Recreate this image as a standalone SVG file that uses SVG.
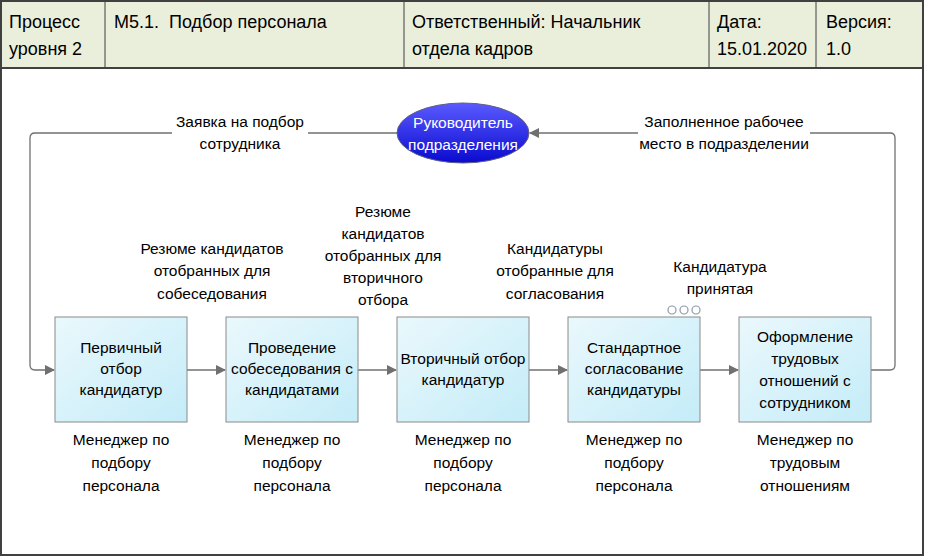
<svg xmlns="http://www.w3.org/2000/svg" width="925" height="557" viewBox="0 0 925 557">
<defs>
<linearGradient id="boxg" x1="0" y1="0" x2="1" y2="1">
<stop offset="0" stop-color="#eaf8fc"/>
<stop offset="1" stop-color="#c4ecf8"/>
</linearGradient>
<linearGradient id="ellg" x1="0" y1="0" x2="0" y2="1">
<stop offset="0" stop-color="#5a5aff"/>
<stop offset="1" stop-color="#0a0ad0"/>
</linearGradient>
<marker id="arr" markerWidth="10" markerHeight="10" refX="9" refY="5" orient="auto" markerUnits="userSpaceOnUse">
<path d="M0,0 L10,5 L0,10 Z" fill="#707070"/>
</marker>
</defs>
<style>
text{font-family:"Liberation Sans",Arial,sans-serif;fill:#000}
.h{font-size:18px}
.t{font-size:15.5px;text-anchor:middle}
.box{fill:url(#boxg);stroke:#8a8a8a;stroke-width:1}
.con{fill:none;stroke:#707070;stroke-width:1.3}
.lbg{fill:#fff}
</style>
<rect x="0" y="0" width="925" height="557" fill="#fff"/>
<g id="header">
<rect x="1" y="1" width="922" height="67" fill="#eaefdc"/>
<rect x="1" y="1" width="922" height="554" fill="none" stroke="#404040" stroke-width="2"/>
<line x1="1" y1="68" x2="923" y2="68" stroke="#404040" stroke-width="2"/>
<line x1="105" y1="1" x2="105" y2="68" stroke="#404040" stroke-width="1"/>
<line x1="404" y1="1" x2="404" y2="68" stroke="#404040" stroke-width="1"/>
<line x1="709" y1="1" x2="709" y2="68" stroke="#404040" stroke-width="1"/>
<line x1="816" y1="1" x2="816" y2="68" stroke="#404040" stroke-width="1"/>
<text class="h" x="9" y="28">Процесс</text>
<text class="h" x="9" y="55">уровня 2</text>
<text class="h" x="114" y="28" xml:space="preserve">М5.1.  Подбор персонала</text>
<text class="h" x="412" y="28">Ответственный: Начальник</text>
<text class="h" x="412" y="55">отдела кадров</text>
<text class="h" x="717" y="28">Дата:</text>
<text class="h" x="717" y="55">15.01.2020</text>
<text class="h" x="826" y="28">Версия:</text>
<text class="h" x="826" y="55">1.0</text>
</g>
<g id="connectors">
<path class="con" d="M397,133 H35 Q30,133 30,138 V365 Q30,370 35,370 H54" marker-end="url(#arr)"/>
<path class="con" d="M871,370 H890 Q895,370 895,365 V138 Q895,133 890,133 H530" marker-end="url(#arr)"/>
<line class="con" x1="187" y1="370" x2="225" y2="370" marker-end="url(#arr)"/>
<line class="con" x1="358" y1="370" x2="396" y2="370" marker-end="url(#arr)"/>
<line class="con" x1="529" y1="370" x2="567" y2="370" marker-end="url(#arr)"/>
<line class="con" x1="700" y1="370" x2="738" y2="370" marker-end="url(#arr)"/>
<rect class="lbg" x="172" y="110" width="136" height="46"/>
<text class="t" x="240" y="127">Заявка на подбор</text>
<text class="t" x="240" y="149">сотрудника</text>
<rect class="lbg" x="638" y="110" width="172" height="46"/>
<text class="t" x="724" y="127">Заполненное рабочее</text>
<text class="t" x="724" y="149">место в подразделении</text>
<text class="t" x="212" y="254">Резюме кандидатов</text>
<text class="t" x="212" y="276">отобранных для</text>
<text class="t" x="212" y="299">собеседования</text>
<text class="t" x="383" y="217">Резюме</text>
<text class="t" x="383" y="239">кандидатов</text>
<text class="t" x="383" y="261">отобранных для</text>
<text class="t" x="383" y="283">вторичного</text>
<text class="t" x="383" y="305">отбора</text>
<text class="t" x="555" y="254">Кандидатуры</text>
<text class="t" x="555" y="276">отобранные для</text>
<text class="t" x="555" y="299">согласования</text>
<text class="t" x="720" y="272">Кандидатура</text>
<text class="t" x="720" y="294">принятая</text>
<g fill="#fff" stroke="#8a9aa8" stroke-width="1.2">
<circle cx="672" cy="310" r="4"/>
<circle cx="684" cy="310" r="4"/>
<circle cx="696" cy="310" r="4"/>
</g>
</g>
<g id="n0">
<ellipse cx="463" cy="133" rx="66" ry="30" fill="url(#ellg)" stroke="#606080" stroke-width="1"/>
<text class="t" x="463" y="128" style="fill:#fff">Руководитель</text>
<text class="t" x="463" y="150" style="fill:#fff">подразделения</text>
</g>
<g id="n1">
<rect class="box" x="55" y="317" width="132" height="105"/>
<text class="t" x="121" y="353">Первичный</text>
<text class="t" x="121" y="374">отбор</text>
<text class="t" x="121" y="395">кандидатур</text>
<text class="t" x="121" y="445">Менеджер по</text>
<text class="t" x="121" y="468">подбору</text>
<text class="t" x="121" y="491">персонала</text>
</g>
<g id="n2">
<rect class="box" x="226" y="317" width="132" height="105"/>
<text class="t" x="292" y="353">Проведение</text>
<text class="t" x="292" y="374">собеседования с</text>
<text class="t" x="292" y="395">кандидатами</text>
<text class="t" x="292" y="445">Менеджер по</text>
<text class="t" x="292" y="468">подбору</text>
<text class="t" x="292" y="491">персонала</text>
</g>
<g id="n3">
<rect class="box" x="397" y="317" width="132" height="105"/>
<text class="t" x="463" y="364">Вторичный отбор</text>
<text class="t" x="463" y="385">кандидатур</text>
<text class="t" x="463" y="445">Менеджер по</text>
<text class="t" x="463" y="468">подбору</text>
<text class="t" x="463" y="491">персонала</text>
</g>
<g id="n4">
<rect class="box" x="568" y="317" width="132" height="105"/>
<text class="t" x="634" y="353">Стандартное</text>
<text class="t" x="634" y="374">согласование</text>
<text class="t" x="634" y="395">кандидатуры</text>
<text class="t" x="634" y="445">Менеджер по</text>
<text class="t" x="634" y="468">подбору</text>
<text class="t" x="634" y="491">персонала</text>
</g>
<g id="n5">
<rect class="box" x="739" y="317" width="132" height="105"/>
<text class="t" x="805" y="342">Оформление</text>
<text class="t" x="805" y="364">трудовых</text>
<text class="t" x="805" y="386">отношений с</text>
<text class="t" x="805" y="408">сотрудником</text>
<text class="t" x="805" y="445">Менеджер по</text>
<text class="t" x="805" y="468">трудовым</text>
<text class="t" x="805" y="491">отношениям</text>
</g>
</svg>
